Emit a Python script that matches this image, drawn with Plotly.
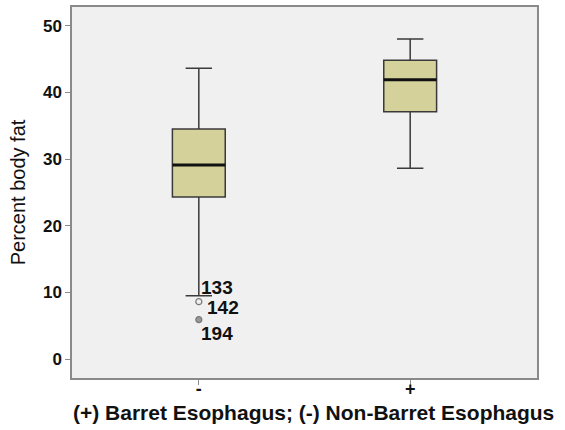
import plotly.graph_objects as go

categories = ["-", "+"]
q1 = [24.3, 37.1]
median = [29.1, 41.9]
q3 = [34.5, 44.8]
lower_whisker = [9.5, 28.6]
upper_whisker = [43.6, 48.0]

outlier_cat = [0, 0]
outlier_vals = [8.6, 5.9]
outlier_fill = ["rgba(0,0,0,0)", "#999999"]
outlier_labels = ["133", "142", "194"]
label_vals = [10.8, 7.7, 3.8]
label_offsets = [0.0, 0.03, 0.0]

x_title = "(+) Barret Esophagus; (-) Non-Barret Esophagus"
y_title = "Percent body fat"

fill = "#d4d19b"
box_w = 0.25
FONT = "Liberation Sans, Arial"

fig = go.Figure()
fig.add_trace(go.Box(
    x=categories, q1=q1, median=median, q3=q3,
    lowerfence=lower_whisker, upperfence=upper_whisker,
    fillcolor=fill, line=dict(color="#3a3a3a", width=1.5),
    width=box_w, whiskerwidth=0.5, boxpoints=False, showlegend=False,
    hoverinfo="skip",
))

# thick median lines
for i, m in enumerate(median):
    fig.add_shape(type="line", xref="x", yref="y",
                  x0=i - box_w / 2, x1=i + box_w / 2, y0=m, y1=m,
                  line=dict(color="#111111", width=3))

fig.add_trace(go.Scatter(
    x=[categories[c] for c in outlier_cat], y=outlier_vals, mode="markers",
    marker=dict(symbol="circle", size=6, color=outlier_fill,
                line=dict(width=1.2, color="#777777")),
    showlegend=False, hoverinfo="skip",
))

for lab, v, off in zip(outlier_labels, label_vals, label_offsets):
    fig.add_annotation(x=0 + off, y=v, xref="x", yref="y", text="<b>%s</b>" % lab,
                       showarrow=False, xanchor="left", yanchor="middle",
                       font=dict(family=FONT, size=19, color="#111111"))

# x-axis title (slightly right of plot centre, as in the reference)
fig.add_annotation(x=0.52, y=-0.092, xref="paper", yref="paper",
                   text="<b>%s</b>" % x_title, showarrow=False,
                   xanchor="center", yanchor="middle",
                   font=dict(family=FONT, size=21, color="#111111"))

fig.update_layout(
    width=565, height=430,
    margin=dict(l=72, r=28, t=7, b=52),
    paper_bgcolor="white", plot_bgcolor="#f0f0f0",
    font=dict(family=FONT, color="#111111"),
)
fig.update_xaxes(
    type="category", range=[-0.6, 1.6], automargin=False,
    showline=True, mirror=True, linecolor="#8a8a8a", linewidth=1.5,
    ticks="outside", ticklen=5, tickcolor="#8a8a8a", showgrid=False,
    tickfont=dict(size=18, family=FONT), ticklabelstandoff=-11,
    ticktext=["<b>-</b>", "<b>+</b>"], tickvals=categories,
)
fig.update_yaxes(
    range=[-2.85, 52.8], tickvals=[0, 10, 20, 30, 40, 50], automargin=False,
    ticktext=["<b>%d</b>" % v for v in [0, 10, 20, 30, 40, 50]],
    showline=True, mirror=True, linecolor="#8a8a8a", linewidth=1.5,
    ticks="outside", ticklen=5, tickcolor="#8a8a8a", showgrid=False, zeroline=False,
    tickfont=dict(size=17),
    title=dict(text=y_title, font=dict(size=20), standoff=12),
)

fig.write_html("out.html")
